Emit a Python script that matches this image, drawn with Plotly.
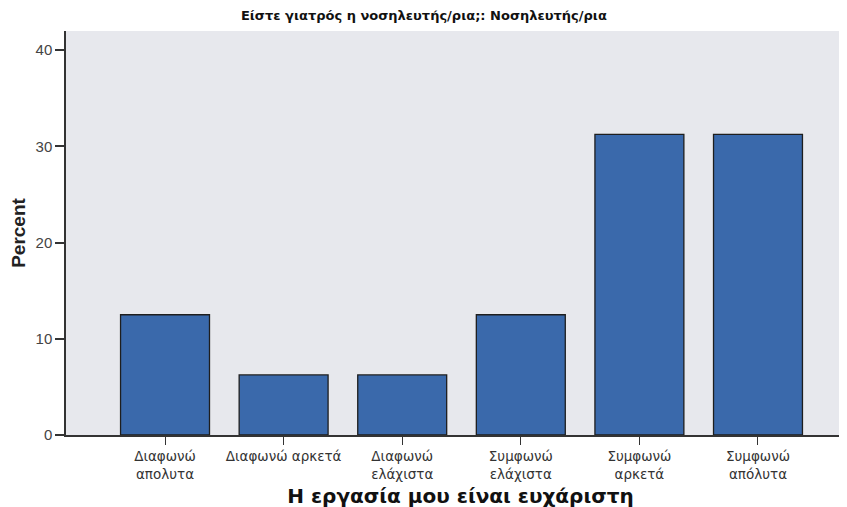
import plotly.graph_objects as go

categories = ["Διαφωνώ<br>απολυτα", "Διαφωνώ αρκετά", "Διαφωνώ<br>ελάχιστα",
              "Συμφωνώ<br>ελάχιστα", "Συμφωνώ<br>αρκετά", "Συμφωνώ<br>απόλυτα"]
percent = [12.5, 6.25, 6.25, 12.5, 31.25, 31.25]
y_ticks = [0, 10, 20, 30, 40]

fig = go.Figure(go.Bar(
    x=categories, y=percent, width=0.75,
    marker=dict(color="#3a69ab", line=dict(color="#1e1e1e", width=1.3)),
))

fig.update_layout(
    width=847, height=507,
    margin=dict(l=58, r=0, t=23, b=80),
    paper_bgcolor="white", plot_bgcolor="#e7e8ed",
    showlegend=False, bargap=0.25,
    title=dict(text="<b>Είστε γιατρός η νοσηλευτής/ρια;: Νοσηλευτής/ρια</b>",
               x=0.491, xref="container", xanchor="center",
               y=0.995, yref="container", yanchor="top",
               font=dict(family="DejaVu Sans", size=13, color="#111")),
    font=dict(family="Liberation Sans, Arial", color="#333"),
)
fig.update_xaxes(
    type="category", range=[-0.835, 5.818], automargin=False,
    showline=True, linecolor="#333", linewidth=1.5,
    ticks="outside", ticklen=8, tickcolor="#333", tickwidth=1,
    tickfont=dict(family="DejaVu Sans", size=13.5, color="#333"),
    showgrid=False,
    title=dict(text="<b>Η εργασία μου είναι ευχάριστη</b>", standoff=8,
               font=dict(family="DejaVu Sans", size=20, color="#111")),
)
fig.update_yaxes(
    range=[0, 42], tickvals=y_ticks, automargin=False,
    showline=True, linecolor="#333", linewidth=1.5,
    ticks="outside", ticklen=9, tickcolor="#333", tickwidth=1.5,
    tickfont=dict(size=15, color="#444"),
    showgrid=False, zeroline=False,
    title=dict(text="<b>Percent</b>", standoff=6,
               font=dict(family="Liberation Sans, Arial", size=19, color="#222")),
)

fig.write_html("out.html")
